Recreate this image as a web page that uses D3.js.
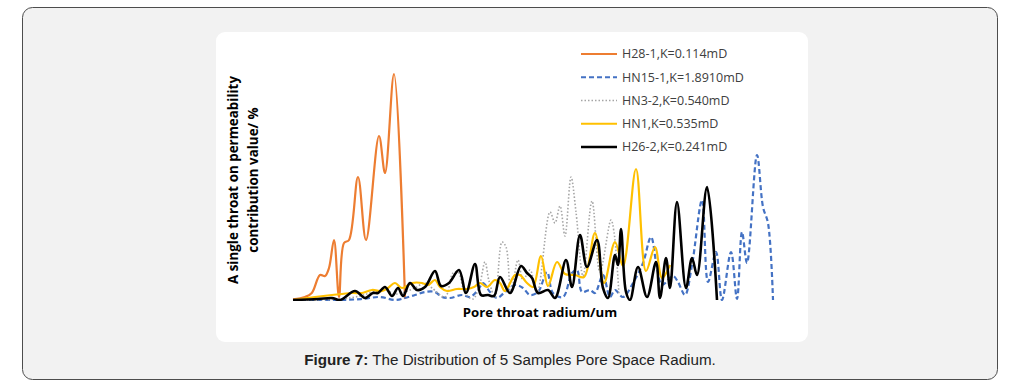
<!DOCTYPE html>
<html>
<head>
<meta charset="utf-8">
<script src="https://cdn.jsdelivr.net/npm/d3@7"></script>
<style>
  html, body { margin: 0; padding: 0; background: #ffffff; }
  svg { display: block; }
</style>
</head>
<body>
<svg id="chart" width="1021" height="387"></svg>
<script>
// ---------- data ----------
const seriesNames = ["H28-1,K=0.114mD", "HN15-1,K=1.8910mD", "HN3-2,K=0.540mD", "HN1,K=0.535mD", "H26-2,K=0.241mD"];

const h28_1_x = [0, 3, 4.7, 6.75, 8, 9, 10.25, 11.5, 12.75, 14, 16.25, 18.25, 21.5, 23, 25.25, 28];
const h28_1_y = [0.03, 0.12, 0.28, 1.0, 0.96, 1.28, 2.4, 0.12, 2.28, 2.4, 4.92, 2.4, 6.56, 5.08, 9.04, 0.04];

const hn15_1_x = [0, 11.25, 17.25, 21.75, 25.5, 28, 30.5, 33, 35.5, 37.25, 39.25, 42.25, 44.25, 46.25, 47.5, 49.25, 51, 53, 55.5, 57.5, 59.25, 61.25, 63.5, 65, 67.5, 69.75, 71, 72.25, 74.25, 75.5, 77.5, 79.25, 80.5, 82.5, 85, 87.5, 89.5, 91, 92.25, 95, 96.25, 98, 99.75, 102.25, 103.75, 105.75, 107.25, 109.5, 111, 112.25, 113.5, 116, 117.5, 118.75, 120];
const hn15_1_y = [0, 0, 0.04, 0.12, 0, 0.08, 0.2, 0.32, 0.32, 0.12, 0.08, 0.2, 0.12, 0.4, 0.68, 0.32, 0.08, 0.32, 0.6, 0.48, 0.2, 0.32, 1.12, 0.28, 0.12, 1.08, 1.2, 0.32, 0.4, 0.28, 1.0, 0.12, 0.4, 0.12, 0.68, 1.48, 2.52, 1.28, 0.6, 0.96, 0.72, 0.2, 1.4, 4.0, 0.72, 1.92, 0, 1.92, 0.04, 2.72, 1.48, 5.8, 3.72, 3.08, 0];

const hn3_2_x = [0, 11.75, 16.75, 20, 23, 25.5, 28, 30.5, 33, 34.75, 38, 40, 41.25, 43, 45, 46.75, 48, 49, 50.5, 52.25, 53.25, 54.5, 56.25, 57.5, 59.25, 61, 64.25, 65.5, 66.75, 68, 69.5, 70.75, 72.5, 74.75, 76.75, 79.5, 80.25, 81.5];
const hn3_2_y = [0, 0.04, 0.16, 0.32, 0.4, 0.24, 0.32, 0.48, 0.68, 0.48, 0.12, 1.08, 1.12, 0.28, 0.04, 0.68, 1.52, 0.76, 0.12, 2.32, 2.12, 0.28, 1.6, 0.8, 1.2, 0.28, 3.52, 3.08, 3.76, 2.56, 4.92, 3.52, 0.96, 3.96, 1.12, 3.2, 2.72, 0.2];

const hn1_x = [0, 5.5, 9.75, 14.75, 17.25, 19.75, 22.25, 23.75, 25.5, 27.25, 29.75, 32.25, 33.75, 35.5, 36.75, 38.5, 41, 43.5, 45.25, 46.75, 48.5, 50.5, 51.75, 53, 55.5, 56.75, 58.5, 60, 62, 63.75, 66, 68, 70.5, 72.75, 75.5, 77.75, 80.5, 82.5, 85.75, 88.25, 90.5, 92.25, 94.25];
const hn1_y = [0, 0.12, 0.2, 0.28, 0.28, 0.4, 0.36, 0.48, 0.68, 0.48, 0.68, 0.68, 0.6, 0.8, 0.52, 0.36, 0.44, 0.44, 0.52, 0.68, 0.52, 0.8, 0.68, 0.36, 1.0, 1.0, 0.68, 0.52, 1.76, 0.56, 1.52, 1.04, 1.0, 0.92, 2.68, 0.68, 2.32, 1.36, 5.24, 1.16, 2.12, 0.88, 1.4];

const h26_2_x = [0, 6.25, 9.75, 11.75, 15.5, 18, 20, 21.25, 23, 24.75, 26.25, 27.5, 29.25, 31, 33, 35.5, 37, 39, 41.5, 43.25, 45.5, 47, 48.75, 50.25, 51.75, 54.25, 57, 58.5, 59.75, 61.25, 63.75, 65.5, 68.25, 69.75, 71.75, 73.5, 76, 77.5, 78.75, 80.5, 81.25, 82, 83.25, 84.25, 86.25, 88.5, 90.75, 91.75, 93.25, 94.25, 96, 98.25, 99.75, 101, 103.5, 106];
const h26_2_y = [0, 0.04, 0.08, 0, 0.36, 0.08, 0.28, 0.28, 0.52, 0.16, 0.48, 0.16, 0.68, 0.4, 0.52, 1.16, 0.56, 0.68, 1.2, 0.28, 1.44, 0.2, 0.2, 0.16, 0.92, 0.28, 1.36, 1.08, 0.88, 0.28, 0.4, 0.08, 1.6, 0.52, 2.6, 1.32, 2.4, 0.48, 0.08, 1.8, 1.4, 2.84, 0.32, 0, 1.32, 0.12, 1.52, 0.08, 1.68, 0.48, 3.92, 0.48, 1.68, 1.0, 4.52, 0];

const xTitle = "Pore throat radium/um";
const yTitleLines = ["A single throat on permeability", "contribution value/ %"];
const captionBold = "Figure 7:";
const captionRest = " The Distribution of 5 Samples Pore Space Radium.";

// ---------- build ----------
const series = [
  { name: seriesNames[0], xs: h28_1_x, ys: h28_1_y, color: "#ED7D31", width: 2.2, dash: null },
  { name: seriesNames[1], xs: hn15_1_x, ys: hn15_1_y, color: "#4472C4", width: 2.2, dash: "5,3" },
  { name: seriesNames[2], xs: hn3_2_x, ys: hn3_2_y, color: "#A5A5A5", width: 1.6, dash: "1.5,2" },
  { name: seriesNames[3], xs: hn1_x, ys: hn1_y, color: "#FFC000", width: 2.2, dash: null },
  { name: seriesNames[4], xs: h26_2_x, ys: h26_2_y, color: "#000000", width: 2.6, dash: null }
];

const svg = d3.select("#chart");

// outer frame
svg.append("rect").attr("x", 22.5).attr("y", 7.5).attr("width", 975).attr("height", 372)
  .attr("rx", 10).attr("fill", "#f2f2f2").attr("stroke", "#4d4d4d").attr("stroke-width", 1);

// inner white panel
svg.append("rect").attr("x", 216).attr("y", 32).attr("width", 592).attr("height", 310)
  .attr("rx", 9).attr("fill", "#ffffff");

const x = d3.scaleLinear().domain([0, 120]).range([293, 773]);
const y = d3.scaleLinear().domain([0, 10]).range([300, 50]);

svg.append("defs").append("clipPath").attr("id", "plotclip")
  .append("rect").attr("x", 280).attr("y", 40).attr("width", 510).attr("height", 261);

const line = d3.line()
  .x(d => x(d[0]))
  .y(d => y(d[1]))
  .curve(d3.curveCatmullRom.alpha(0.5));

const g = svg.append("g").attr("clip-path", "url(#plotclip)");
series.forEach(s => {
  const pts = s.xs.map((v, i) => [v, s.ys[i]]);
  g.append("path")
    .datum(pts)
    .attr("d", line)
    .attr("fill", "none")
    .attr("stroke", s.color)
    .attr("stroke-width", s.width)
    .attr("stroke-linejoin", "round")
    .attr("stroke-dasharray", s.dash);
});

// legend
const legY = d3.scalePoint().domain(seriesNames).range([54, 147]);
const leg = svg.append("g");
series.forEach(s => {
  const yy = legY(s.name);
  leg.append("line").attr("x1", 581).attr("x2", 617).attr("y1", yy).attr("y2", yy)
    .attr("stroke", s.color).attr("stroke-width", s.width)
    .attr("stroke-dasharray", s.dash);
  leg.append("text").attr("x", 622).attr("y", yy).attr("dy", "0.35em")
    .attr("font-family", "'Open Sans', 'Liberation Sans', sans-serif")
    .attr("font-size", 12.5).attr("fill", "#404040")
    .text(s.name);
});

// axis titles
svg.append("text").attr("x", 540).attr("y", 312).attr("dy", "0.35em")
  .attr("text-anchor", "middle")
  .attr("font-family", "'Open Sans', 'Liberation Sans', sans-serif")
  .attr("font-weight", "bold").attr("font-size", 13.2).attr("fill", "#000")
  .text(xTitle);

const yt = svg.append("g").attr("transform", "translate(233,180) rotate(-90)");
yTitleLines.forEach((t, i) => {
  yt.append("text").attr("x", 0).attr("y", i * 20).attr("dy", "0.35em")
    .attr("text-anchor", "middle")
    .attr("font-family", "'Open Sans', 'Liberation Sans', sans-serif")
    .attr("font-weight", "bold").attr("font-size", 13.4).attr("fill", "#000")
    .text(t);
});

// caption
const cap = svg.append("text").attr("x", 510).attr("y", 360).attr("dy", "0.35em")
  .attr("text-anchor", "middle")
  .attr("font-family", "'Liberation Sans', Arial, sans-serif")
  .attr("font-size", 15.2).attr("fill", "#222");
cap.append("tspan").attr("font-weight", "bold").text(captionBold);
cap.append("tspan").text(captionRest);
</script>
</body>
</html>
